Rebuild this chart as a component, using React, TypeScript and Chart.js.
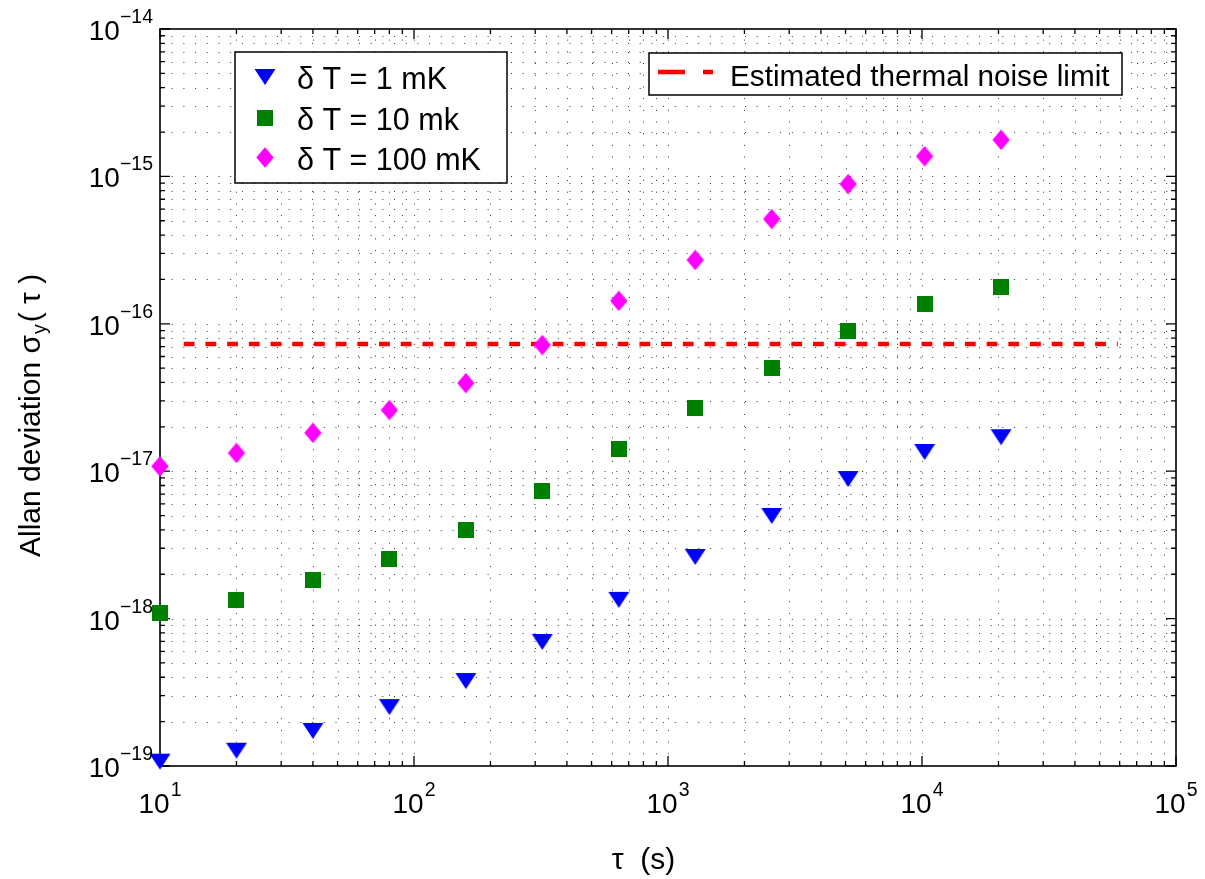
import React, { useEffect, useRef } from "react";
import { Chart, registerables } from "chart.js";

Chart.register(...registerables);

// ---------- data ----------
const tau = [10, 20, 40, 80, 160, 320, 640, 1280, 2560, 5120, 10240, 20480];
const adev1mK = [1.07e-19, 1.27e-19, 1.73e-19, 2.51e-19, 3.77e-19, 6.94e-19, 1.34e-18, 2.62e-18, 4.97e-18, 8.85e-18, 1.35e-17, 1.7e-17];
const adev10mK = [1.09e-18, 1.34e-18, 1.83e-18, 2.54e-18, 3.99e-18, 7.34e-18, 1.42e-17, 2.68e-17, 5.0e-17, 8.93e-17, 1.36e-16, 1.78e-16];
const adev100mK = [1.08e-17, 1.33e-17, 1.82e-17, 2.6e-17, 3.96e-17, 7.18e-17, 1.43e-16, 2.71e-16, 5.14e-16, 8.88e-16, 1.37e-15, 1.77e-15];
const limitTau = [12.4, 59000];
const limitValue = [7.3e-17, 7.3e-17];

const seriesLabels = ["δ T = 1 mK", "δ T = 10 mk", "δ T = 100 mK"];
const limitLabel = "Estimated thermal noise limit";
const xTitle = "τ  (s)";
const yTitleMain = "Allan deviation σ";
const yTitleSub = "y";
const yTitleEnd = "( τ )";

const xExponents = [1, 2, 3, 4, 5];
const yExponents = [-19, -18, -17, -16, -15, -14];

const FONT = '"Liberation Sans", Arial, Helvetica, sans-serif';

function makeMarker(kind: string, color: string): HTMLCanvasElement {
  const c = document.createElement("canvas");
  let w = 16, h = 16;
  if (kind === "tri") { w = 22; h = 18; }
  if (kind === "dia") { w = 18; h = 21; }
  c.width = w; c.height = h;
  const ctx = c.getContext("2d")!;
  ctx.fillStyle = color;
  ctx.beginPath();
  if (kind === "tri") {
    ctx.moveTo(0.5, 1); ctx.lineTo(21.5, 1); ctx.lineTo(11, 17);
  } else if (kind === "sq") {
    ctx.rect(0, 0, 16, 16);
  } else {
    ctx.moveTo(9, 0.3); ctx.lineTo(17.7, 10.5); ctx.lineTo(9, 20.7); ctx.lineTo(0.3, 10.5);
  }
  ctx.closePath();
  ctx.fill();
  return c;
}

export default function App() {
  const ref = useRef<HTMLCanvasElement | null>(null);

  useEffect(() => {
    if (!ref.current) return;
    const tri = makeMarker("tri", "#0000ff");
    const sq = makeMarker("sq", "#008000");
    const dia = makeMarker("dia", "#ff00ff");
    const markers = [tri, sq, dia];

    const matlab = {
      id: "matlab",
      beforeDatasetsDraw(chart: any) {
        const { ctx, chartArea: a, scales } = chart;
        const x = scales.x, y = scales.y;
        ctx.save();
        // dotted grid
        ctx.strokeStyle = "#333";
        ctx.lineWidth = 1;
        ctx.setLineDash([1, 10.7]);
        for (let e = xExponents[0]; e < xExponents[xExponents.length - 1]; e++) {
          for (let k = 1; k <= 9; k++) {
            const px = Math.round(x.getPixelForValue(k * Math.pow(10, e))) + 0.5;
            if (px <= a.left + 1 || px >= a.right - 1) continue;
            ctx.beginPath(); ctx.moveTo(px, a.bottom); ctx.lineTo(px, a.top); ctx.stroke();
          }
        }
        for (let e = yExponents[0]; e < yExponents[yExponents.length - 1]; e++) {
          for (let k = 1; k <= 9; k++) {
            const py = Math.round(y.getPixelForValue(k * Math.pow(10, e))) + 0.5;
            if (py <= a.top + 1 || py >= a.bottom - 1) continue;
            ctx.beginPath(); ctx.moveTo(a.left, py); ctx.lineTo(a.right, py); ctx.stroke();
          }
        }
        ctx.setLineDash([]);
        // ticks
        ctx.strokeStyle = "#000";
        ctx.lineWidth = 1.3;
        for (let e = xExponents[0]; e <= xExponents[xExponents.length - 1]; e++) {
          for (let k = 1; k <= 9; k++) {
            const v = k * Math.pow(10, e);
            if (v > Math.pow(10, xExponents[xExponents.length - 1])) break;
            const px = x.getPixelForValue(v);
            const len = k === 1 ? 10 : 5;
            ctx.beginPath();
            ctx.moveTo(px, a.bottom); ctx.lineTo(px, a.bottom - len);
            ctx.moveTo(px, a.top); ctx.lineTo(px, a.top + len);
            ctx.stroke();
          }
        }
        for (let e = yExponents[0]; e <= yExponents[yExponents.length - 1]; e++) {
          for (let k = 1; k <= 9; k++) {
            const v = k * Math.pow(10, e);
            if (v > Math.pow(10, yExponents[yExponents.length - 1]) * 1.0001) break;
            const py = y.getPixelForValue(v);
            const len = k === 1 ? 10 : 5;
            ctx.beginPath();
            ctx.moveTo(a.left, py); ctx.lineTo(a.left + len, py);
            ctx.moveTo(a.right, py); ctx.lineTo(a.right - len, py);
            ctx.stroke();
          }
        }
        // box
        ctx.lineWidth = 1.6;
        ctx.strokeRect(a.left, a.top, a.right - a.left, a.bottom - a.top);
        ctx.restore();
      },
      afterDatasetsDraw(chart: any) {
        const { ctx, chartArea: a, scales } = chart;
        const x = scales.x, y = scales.y;
        ctx.save();
        ctx.fillStyle = "#000";
        ctx.textAlign = "left";
        ctx.textBaseline = "alphabetic";
        const big = `28px ${FONT}`;
        const small = `19.5px ${FONT}`;
        // x tick labels
        for (const e of xExponents) {
          const px = x.getPixelForValue(Math.pow(10, e));
          ctx.font = big; const w1 = ctx.measureText("10").width;
          ctx.font = small; const es = String(e); const w2 = ctx.measureText(es).width;
          const start = px - (w1 + w2 + 1) / 2;
          ctx.font = big; ctx.fillText("10", start, a.bottom + 47);
          ctx.font = small; ctx.fillText(es, start + w1 + 1, a.bottom + 30);
        }
        // y tick labels
        for (const e of yExponents) {
          const py = y.getPixelForValue(Math.pow(10, e));
          const es = "−" + String(Math.abs(e));
          ctx.font = big; const w1 = ctx.measureText("10").width;
          ctx.font = small; const w2 = ctx.measureText(es).width;
          const right = a.left - 7;
          const start = right - w1 - w2;
          ctx.font = big; ctx.fillText("10", start, py + 11);
          ctx.font = small; ctx.fillText(es, start + w1, py - 6);
        }
        // x title
        ctx.font = `30px ${FONT}`;
        ctx.textAlign = "center";
        ctx.fillText(xTitle, a.left + 483.5, a.bottom + 103);
        // y title
        ctx.save();
        ctx.translate(40, a.top + 528);
        ctx.rotate(-Math.PI / 2);
        ctx.textAlign = "left";
        ctx.font = `30px ${FONT}`;
        ctx.fillText(yTitleMain, 0, 0);
        const t1 = ctx.measureText(yTitleMain).width;
        ctx.font = `19.5px ${FONT}`;
        ctx.fillText(yTitleSub, t1 + 1, 6);
        const t2 = ctx.measureText(yTitleSub).width;
        ctx.font = `30px ${FONT}`;
        ctx.fillText(yTitleEnd, t1 + t2 + 3, 0);
        ctx.restore();

        // legend 1
        ctx.textAlign = "left";
        ctx.fillStyle = "#fff";
        ctx.fillRect(235, 52, 272, 131);
        ctx.strokeStyle = "#000";
        ctx.lineWidth = 1.5;
        ctx.strokeRect(235, 52, 272, 131);
        const rowsMarker = [77, 118, 157.5];
        const rowsText = [89, 130, 170];
        ctx.font = `30.5px ${FONT}`;
        ctx.fillStyle = "#000";
        for (let i = 0; i < 3; i++) {
          const m = markers[i];
          ctx.drawImage(m, 265 - m.width / 2, rowsMarker[i] - m.height / 2);
          ctx.fillText(seriesLabels[i], 297, rowsText[i]);
        }
        // legend 2
        ctx.fillStyle = "#fff";
        ctx.fillRect(649, 53, 473, 42);
        ctx.strokeRect(649, 53, 473, 42);
        ctx.strokeStyle = "#ff0000";
        ctx.lineWidth = 4.5;
        ctx.setLineDash([27, 18]);
        ctx.beginPath(); ctx.moveTo(658, 72); ctx.lineTo(713, 72); ctx.stroke();
        ctx.setLineDash([]);
        ctx.fillStyle = "#000";
        ctx.font = `29.7px ${FONT}`;
        ctx.fillText(limitLabel, 730, 86);
        ctx.restore();
      },
    };

    const chart = new Chart(ref.current, {
      type: "scatter",
      data: {
        datasets: [
          { label: seriesLabels[0], data: tau.map((t, i) => ({ x: t, y: adev1mK[i] })), pointStyle: tri as any, pointRadius: 11, showLine: false, clip: false as any },
          { label: seriesLabels[1], data: tau.map((t, i) => ({ x: t, y: adev10mK[i] })), pointStyle: sq as any, pointRadius: 11, showLine: false, clip: false as any },
          { label: seriesLabels[2], data: tau.map((t, i) => ({ x: t, y: adev100mK[i] })), pointStyle: dia as any, pointRadius: 11, showLine: false, clip: false as any },
          {
            label: limitLabel,
            data: limitTau.map((t, i) => ({ x: t, y: limitValue[i] })),
            showLine: true, borderColor: "#ff0000", backgroundColor: "#ff0000", borderWidth: 4.5,
            borderDash: [10.8, 10.9], pointRadius: 0, fill: false, clip: false as any,
          },
        ],
      },
      options: {
        animation: false,
        responsive: true,
        maintainAspectRatio: false,
        devicePixelRatio: 1,
        events: [],
        layout: { padding: { left: 160, right: 29, top: 29, bottom: 113 } },
        plugins: { legend: { display: false }, tooltip: { enabled: false }, title: { display: false } },
        scales: {
          x: { type: "logarithmic", min: 10, max: 1e5, display: false },
          y: { type: "logarithmic", min: 1e-19, max: 1e-14, display: false },
        },
      },
      plugins: [matlab],
    });
    return () => chart.destroy();
  }, []);

  return (
    <div style={{ position: "fixed", left: 0, top: 0, width: 1205, height: 879, background: "#fff" }}>
      <canvas ref={ref} />
    </div>
  );
}
